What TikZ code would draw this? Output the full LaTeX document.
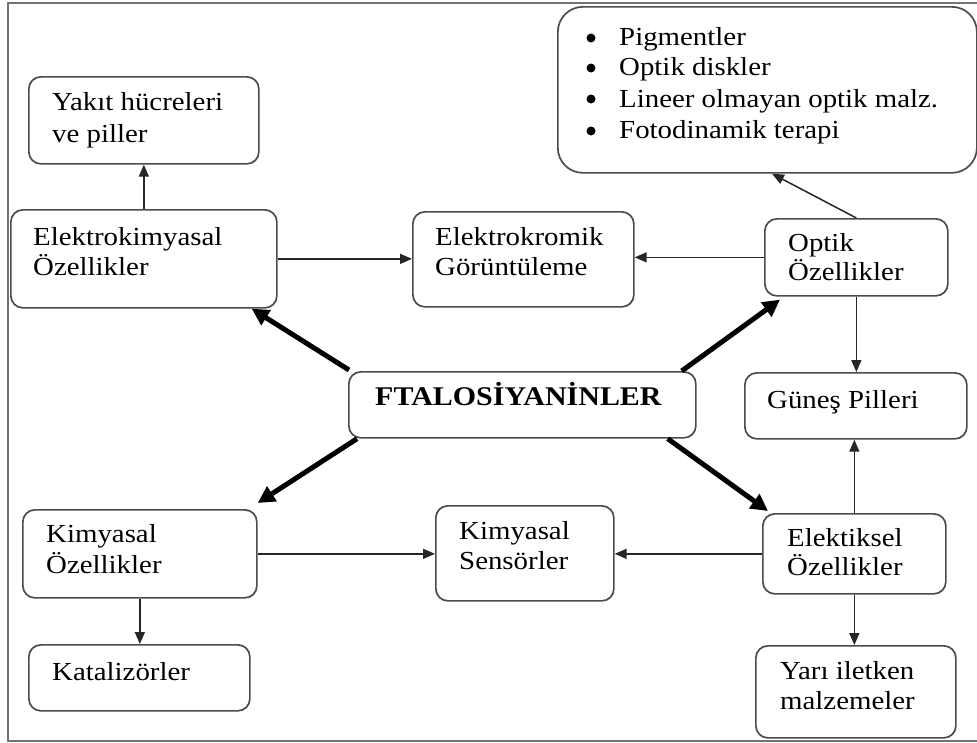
\documentclass[tikz,border=0pt]{standalone}
\usepackage{fontspec}
\setmainfont{Liberation Serif}[FakeStretch=1.11]
\usetikzlibrary{arrows.meta}
\begin{document}
\begin{tikzpicture}[x=1pt,y=-1pt,
 box/.style={draw=black!70, line width=1.7pt, rounded corners=12pt, anchor=north west, inner sep=0pt},
 lbl/.style={anchor=base west, inner sep=0pt, font=\fontsize{26}{30.5}\selectfont, text=black},
 bul/.style={circle, fill=black, inner sep=0pt, minimum size=9pt},
 thinarr/.style={draw=black!85, line width=1.5pt, -{Triangle[length=12pt,width=10pt]}},
 thickarr/.style={draw=black, line width=5pt, -{Triangle[length=17pt,width=17pt]}},
]
\useasboundingbox (0,0) rectangle (977,742);
% frame
\draw[black!55, line width=1.5pt] (980,3) -- (8,3) -- (8,741) -- (980,741);

% boxes
\node[box, minimum width=230pt, minimum height=87pt] (yakit) at (28,76) {};
\node[box, minimum width=266pt, minimum height=98pt] (ekim) at (10,209) {};
\node[box, minimum width=221pt, minimum height=95pt] (ekrom) at (412,211) {};
\node[box, rounded corners=25pt, minimum width=419pt, minimum height=166pt] (pig) at (557,6) {};
\node[box, minimum width=183pt, minimum height=77pt] (optik) at (764,218) {};
\node[box, minimum width=347pt, minimum height=66pt] (ftal) at (348,371) {};
\node[box, minimum width=222pt, minimum height=66pt] (gunes) at (744,372) {};
\node[box, minimum width=234pt, minimum height=88pt] (kim) at (22,509) {};
\node[box, minimum width=178pt, minimum height=95pt] (sens) at (435,505) {};
\node[box, minimum width=183pt, minimum height=80pt] (elek) at (762,513) {};
\node[box, minimum width=221pt, minimum height=66pt] (kat) at (28,644) {};
\node[box, minimum width=200pt, minimum height=92pt] (yari) at (755,645) {};

% labels
\node[lbl] (t1a) at (52,110) {Yakıt hücreleri};
\node[lbl] (t1b) at (52,142) {ve piller};
\node[lbl] (t2a) at (33,245) {Elektrokimyasal};
\node[lbl] (t2b) at (33,275) {Özellikler};
\node[lbl] (t3a) at (435,245) {Elektrokromik};
\node[lbl] (t3b) at (435,275) {Görüntüleme};
\node[bul] (b1) at (591,38) {};
\node[lbl] (p1) at (619,45) {Pigmentler};
\node[bul] (b2) at (591,68) {};
\node[lbl] (p2) at (619,75) {Optik diskler};
\node[bul] (b3) at (591,99) {};
\node[lbl] (p3) at (619,107) {Lineer olmayan optik malz.};
\node[bul] (b4) at (591,131) {};
\node[lbl] (p4) at (619,138) {Fotodinamik terapi};
\node[lbl] (t4a) at (788,251) {Optik};
\node[lbl] (t4b) at (788,280) {Özellikler};
\node[lbl, font=\fontsize{27}{30.5}\selectfont\bfseries] (t5) at (375,405) {FTALOSİYANİNLER};
\node[lbl] (t6) at (767,408) {Güneş Pilleri};
\node[lbl] (t7a) at (46,542) {Kimyasal};
\node[lbl] (t7b) at (46,573) {Özellikler};
\node[lbl] (t8a) at (459,539) {Kimyasal};
\node[lbl] (t8b) at (459,569) {Sensörler};
\node[lbl] (t9a) at (787,546) {Elektiksel};
\node[lbl] (t9b) at (787,575) {Özellikler};
\node[lbl] (t10) at (52,680) {Katalizörler};
\node[lbl] (t11a) at (780,679) {Yarı iletken};
\node[lbl] (t11b) at (780,709) {malzemeler};

% thin arrows
\draw[thinarr] (ekim.north) -- (ekim.north |- yakit.south);
\draw[thinarr] (ekim.east) -- (ekim.east -| ekrom.west);
\draw[thinarr] (optik.west) -- (optik.west -| ekrom.east);
\draw[thinarr] (optik.north) -- ([xshift=215pt]pig.south west);
\draw[thinarr] (optik.south) -- (optik.south |- gunes.north);
\draw[thinarr] (elek.north) -- (elek.north |- gunes.south);
\draw[thinarr] (elek.south) -- (elek.south |- yari.north);
\draw[thinarr] (elek.west) -- (elek.west -| sens.east);
\draw[thinarr] (kim.east) -- (kim.east -| sens.west);
\draw[thinarr] (kim.south) -- (kim.south |- kat.north);

% thick arrows
\draw[thickarr] ([xshift=1pt,yshift=1pt]ftal.north west) -- ([xshift=-26pt]ekim.south east);
\draw[thickarr] ([xshift=9pt]ftal.south west) -- ([yshift=6pt]kim.north east);
\draw[thickarr] ([xshift=-15pt]ftal.north east) -- ([xshift=16pt,yshift=-3pt]optik.south west);
\draw[thickarr] ([xshift=-29pt]ftal.south east) -- ([xshift=6pt,yshift=2pt]elek.north west);
\end{tikzpicture}
\end{document}
